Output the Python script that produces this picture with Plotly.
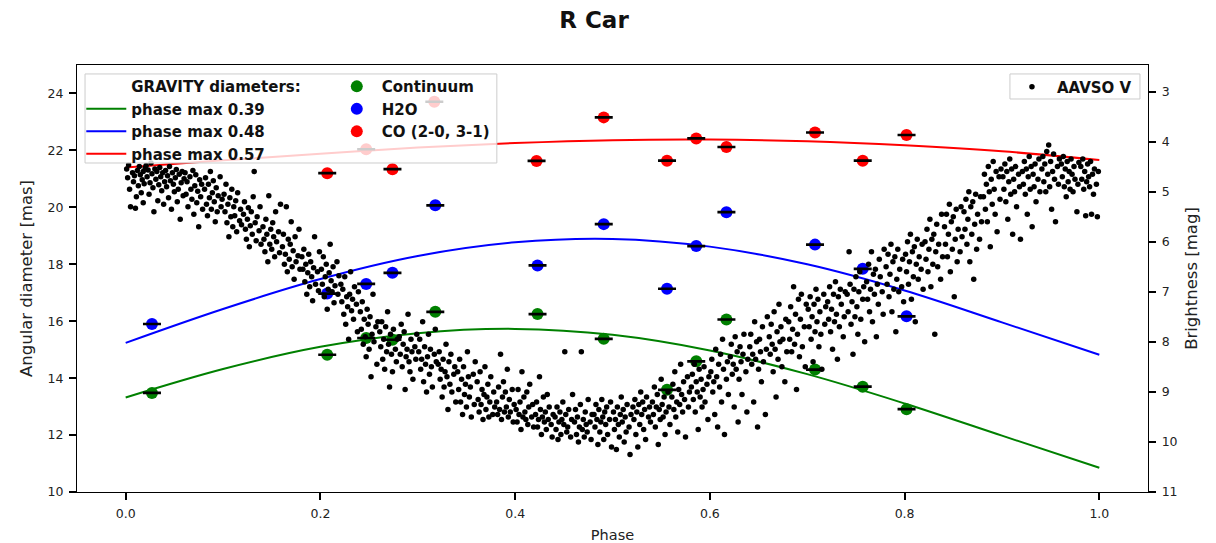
import plotly.graph_objects as go

# ---------------------------------------------------------------- labels / ticks
title_text = "R Car"
x_label = "Phase"
y_label = "Angular diameter [mas]"
y2_label = "Brightness [mag]"
phase_ticks = [0.0, 0.2, 0.4, 0.6, 0.8, 1.0]
phase_tick_text = ["0.0", "0.2", "0.4", "0.6", "0.8", "1.0"]
diam_ticks = [10, 12, 14, 16, 18, 20, 22, 24]
mag_ticks = [3, 4, 5, 6, 7, 8, 9, 10, 11]

# ---------------------------------------------------------------- GRAVITY diameters
grav_phase = [0.027, 0.207, 0.247, 0.274, 0.318, 0.423, 0.491, 0.556, 0.586, 0.617, 0.708, 0.757, 0.802]
cont_diam = [13.48, 14.82, 15.41, 15.35, 16.33, 16.25, 15.38, 13.59, 14.59, 16.06, 14.30, 13.70, 12.91]
cont_err = [0.015, 0.015, 0.015, 0.015, 0.015, 0.015, 0.015, 0.015, 0.015, 0.015, 0.015, 0.015, 0.015]
h2o_diam = [15.90, 16.97, 17.31, 17.70, 20.07, 17.96, 19.41, 17.14, 18.64, 19.83, 18.69, 17.84, 16.17]
h2o_err = [0.015, 0.015, 0.015, 0.015, 0.015, 0.015, 0.015, 0.015, 0.015, 0.015, 0.015, 0.015, 0.015]
co_phase = [0.207, 0.247, 0.274, 0.317, 0.422, 0.491, 0.556, 0.586, 0.617, 0.708, 0.757, 0.802]
co_diam = [21.20, 22.04, 21.34, 23.71, 21.63, 23.16, 21.64, 22.42, 22.12, 22.63, 21.64, 22.54]
co_err = [0.015, 0.015, 0.015, 0.015, 0.015, 0.015, 0.015, 0.015, 0.015, 0.015, 0.015, 0.015]

# fitted curves (phase of maximum given in the legend)
fit_phase = [0.0, 0.1, 0.2, 0.3, 0.4, 0.5, 0.6, 0.7, 0.8, 0.9, 1.0]
fit_cont = [13.32, 14.32, 15.10, 15.58, 15.73, 15.52, 14.97, 14.14, 13.11, 11.98, 10.85]
fit_h2o = [15.24, 16.43, 17.48, 18.29, 18.77, 18.89, 18.62, 18.00, 17.08, 15.96, 14.82]
fit_co = [21.40, 21.65, 21.88, 22.10, 22.26, 22.36, 22.38, 22.32, 22.18, 21.97, 21.66]

# ---------------------------------------------------------------- AAVSO V light curve (folded)
aavso_phase = [
    0.001, 0.002, 0.004, 0.005, 0.007, 0.008, 0.009, 0.011, 0.012, 0.013,
    0.014, 0.015, 0.016, 0.017, 0.018, 0.018, 0.019, 0.020, 0.010, 0.003,
    0.021, 0.022, 0.023, 0.024, 0.025, 0.026, 0.027, 0.028, 0.029, 0.030,
    0.031, 0.032, 0.033, 0.034, 0.035, 0.036, 0.037, 0.038, 0.039, 0.040,
    0.041, 0.042, 0.043, 0.044, 0.045, 0.046, 0.047, 0.048, 0.049, 0.050,
    0.051, 0.052, 0.053, 0.054, 0.055, 0.056, 0.057, 0.058, 0.059, 0.060,
    0.061, 0.062, 0.063, 0.064, 0.066, 0.067, 0.068, 0.069, 0.070,
    0.071, 0.072, 0.073, 0.074, 0.075, 0.076, 0.077, 0.078, 0.079,
    0.081, 0.082, 0.083, 0.084, 0.085, 0.086, 0.087, 0.088, 0.089,
    0.090, 0.091, 0.092, 0.093, 0.094, 0.095, 0.097, 0.098, 0.099,
    0.101, 0.102, 0.103, 0.104, 0.105, 0.106, 0.107, 0.108, 0.109,
    0.110, 0.111, 0.112, 0.113, 0.114, 0.115, 0.117, 0.118, 0.119,
    0.121, 0.122, 0.123, 0.124, 0.125, 0.126, 0.127, 0.128, 0.129,
    0.130, 0.131, 0.132, 0.133, 0.134, 0.135, 0.137, 0.138, 0.139,
    0.141, 0.142, 0.143, 0.144, 0.145, 0.146, 0.147, 0.148, 0.149,
    0.150, 0.151, 0.152, 0.153, 0.154, 0.155, 0.157, 0.158, 0.159,
    0.161, 0.162, 0.163, 0.164, 0.165, 0.166, 0.167, 0.168, 0.169,
    0.170, 0.171, 0.172, 0.173, 0.174, 0.175, 0.177, 0.178, 0.179,
    0.181, 0.182, 0.183, 0.184, 0.185, 0.186, 0.187, 0.188, 0.189,
    0.190, 0.191, 0.192, 0.193, 0.194, 0.195, 0.197, 0.198, 0.199,
    0.201, 0.202, 0.203, 0.204, 0.205, 0.206, 0.207, 0.208, 0.209,
    0.210, 0.211, 0.212, 0.213, 0.214, 0.215, 0.217, 0.218, 0.219,
    0.221, 0.222, 0.223, 0.224, 0.225, 0.226, 0.227, 0.228, 0.229,
    0.230, 0.231, 0.232, 0.233, 0.234, 0.235, 0.237, 0.238, 0.239,
    0.241, 0.242, 0.243, 0.244, 0.245, 0.246, 0.247, 0.248, 0.249,
    0.250, 0.251, 0.252, 0.253, 0.254, 0.255, 0.257, 0.258, 0.259,
    0.261, 0.262, 0.263, 0.264, 0.265, 0.266, 0.267, 0.268, 0.269,
    0.270, 0.271, 0.272, 0.273, 0.274, 0.275, 0.277, 0.278, 0.279,
    0.281, 0.282, 0.283, 0.284, 0.285, 0.286, 0.287, 0.288, 0.289,
    0.290, 0.291, 0.292, 0.293, 0.294, 0.295, 0.297, 0.298, 0.299,
    0.301, 0.302, 0.303, 0.304, 0.305, 0.306, 0.307, 0.308, 0.309,
    0.310, 0.311, 0.312, 0.313, 0.314, 0.315, 0.317, 0.318, 0.319,
    0.321, 0.322, 0.323, 0.324, 0.325, 0.326, 0.327, 0.328, 0.329,
    0.330, 0.331, 0.332, 0.333, 0.334, 0.335, 0.337, 0.338, 0.339,
    0.341, 0.342, 0.343, 0.344, 0.345, 0.346, 0.347, 0.348, 0.349,
    0.350, 0.351, 0.352, 0.353, 0.354, 0.355, 0.357, 0.358, 0.359,
    0.361, 0.362, 0.363, 0.364, 0.365, 0.366, 0.367, 0.368, 0.369,
    0.370, 0.371, 0.372, 0.373, 0.374, 0.375, 0.377, 0.378, 0.379,
    0.381, 0.382, 0.383, 0.384, 0.385, 0.386, 0.387, 0.388, 0.389,
    0.390, 0.391, 0.392, 0.393, 0.394, 0.395, 0.397, 0.398, 0.399,
    0.401, 0.402, 0.403, 0.404, 0.405, 0.406, 0.407, 0.408, 0.409,
    0.410, 0.411, 0.412, 0.413, 0.414, 0.415, 0.417, 0.418, 0.419,
    0.421, 0.422, 0.423, 0.424, 0.425, 0.426, 0.427, 0.428, 0.429,
    0.430, 0.431, 0.432, 0.433, 0.434, 0.435, 0.437, 0.438, 0.439,
    0.441, 0.442, 0.443, 0.444, 0.445, 0.446, 0.447, 0.448, 0.449,
    0.450, 0.451, 0.452, 0.453, 0.454, 0.455, 0.457, 0.458, 0.459,
    0.461, 0.462, 0.463, 0.464, 0.465, 0.466, 0.467, 0.468, 0.469,
    0.470, 0.471, 0.472, 0.473, 0.474, 0.475, 0.477, 0.478, 0.479,
    0.481, 0.482, 0.483, 0.484, 0.485, 0.486, 0.487, 0.488, 0.489,
    0.490, 0.491, 0.492, 0.493, 0.494, 0.495, 0.497, 0.498, 0.499,
    0.501, 0.502, 0.503, 0.504, 0.505, 0.506, 0.507, 0.508, 0.509,
    0.510, 0.511, 0.512, 0.513, 0.514, 0.515, 0.517, 0.518, 0.519,
    0.521, 0.522, 0.523, 0.524, 0.525, 0.526, 0.527, 0.528, 0.529,
    0.530, 0.531, 0.532, 0.533, 0.534, 0.535, 0.537, 0.538, 0.539,
    0.541, 0.542, 0.543, 0.544, 0.545, 0.546, 0.547, 0.548, 0.549,
    0.550, 0.551, 0.552, 0.553, 0.554, 0.555, 0.557, 0.558, 0.559,
    0.561, 0.562, 0.563, 0.564, 0.565, 0.566, 0.567, 0.568, 0.569,
    0.570, 0.571, 0.572, 0.573, 0.574, 0.575, 0.577, 0.578, 0.579,
    0.581, 0.582, 0.583, 0.584, 0.585, 0.586, 0.587, 0.588, 0.589,
    0.590, 0.591, 0.592, 0.593, 0.594, 0.595, 0.597, 0.598, 0.599,
    0.601, 0.602, 0.603, 0.604, 0.605, 0.606, 0.607, 0.608, 0.609,
    0.610, 0.611, 0.612, 0.613, 0.614, 0.615, 0.617, 0.618, 0.619,
    0.621, 0.622, 0.623, 0.624, 0.625, 0.626, 0.627, 0.628, 0.629,
    0.630, 0.631, 0.632, 0.633, 0.634, 0.635, 0.637, 0.638, 0.639,
    0.641, 0.642, 0.643, 0.644, 0.645, 0.646, 0.647, 0.648, 0.649,
    0.650, 0.651, 0.652, 0.653, 0.654, 0.655, 0.657, 0.658, 0.659,
    0.661, 0.662, 0.663, 0.664, 0.665, 0.666, 0.667, 0.668, 0.669,
    0.670, 0.671, 0.672, 0.673, 0.674, 0.675, 0.677, 0.678, 0.679,
    0.681, 0.682, 0.683, 0.684, 0.685, 0.686, 0.687, 0.688, 0.689,
    0.690, 0.691, 0.692, 0.693, 0.694, 0.695, 0.697, 0.698, 0.699,
    0.701, 0.702, 0.703, 0.704, 0.705, 0.706, 0.707, 0.708, 0.709,
    0.710, 0.711, 0.712, 0.713, 0.714, 0.715, 0.717, 0.718, 0.719,
    0.721, 0.722, 0.723, 0.724, 0.725, 0.726, 0.727, 0.728, 0.729,
    0.730, 0.731, 0.732, 0.733, 0.734, 0.735, 0.737, 0.738, 0.739,
    0.741, 0.742, 0.743, 0.744, 0.745, 0.746, 0.747, 0.748, 0.749,
    0.750, 0.751, 0.752, 0.753, 0.754, 0.755, 0.757, 0.758, 0.759,
    0.761, 0.762, 0.763, 0.764, 0.765, 0.766, 0.767, 0.768, 0.769,
    0.770, 0.771, 0.772, 0.773, 0.774, 0.775, 0.777, 0.778, 0.779,
    0.781, 0.782, 0.783, 0.784, 0.785, 0.786, 0.787, 0.788, 0.789,
    0.790, 0.791, 0.792, 0.793, 0.794, 0.795, 0.797, 0.798, 0.799,
    0.801, 0.802, 0.803, 0.804, 0.805, 0.806, 0.807, 0.808, 0.809,
    0.810, 0.811, 0.812, 0.813, 0.814, 0.815, 0.817, 0.818, 0.819,
    0.821, 0.822, 0.823, 0.824, 0.825, 0.826, 0.827, 0.828, 0.829,
    0.830, 0.831, 0.832, 0.833, 0.834, 0.835, 0.837, 0.838, 0.839,
    0.841, 0.842, 0.843, 0.844, 0.845, 0.846, 0.847, 0.848, 0.849,
    0.850, 0.851, 0.852, 0.853, 0.854, 0.855, 0.857, 0.858, 0.859,
    0.861, 0.862, 0.863, 0.864, 0.865, 0.866, 0.867, 0.868, 0.869,
    0.870, 0.871, 0.872, 0.873, 0.874, 0.875, 0.877, 0.878, 0.879,
    0.881, 0.882, 0.883, 0.884, 0.885, 0.886, 0.887, 0.888, 0.889,
    0.890, 0.891, 0.892, 0.893, 0.894, 0.895, 0.897, 0.898, 0.899,
    0.901, 0.902, 0.903, 0.904, 0.905, 0.906, 0.907, 0.908, 0.909,
    0.910, 0.911, 0.912, 0.913, 0.914, 0.915, 0.917, 0.918, 0.919,
    0.921, 0.922, 0.923, 0.924, 0.925, 0.926, 0.927, 0.928, 0.929,
    0.930, 0.931, 0.932, 0.933, 0.934, 0.935, 0.937, 0.938, 0.939,
    0.941, 0.942, 0.943, 0.944, 0.945, 0.946, 0.947, 0.948, 0.949,
    0.950, 0.951, 0.952, 0.953, 0.954, 0.955, 0.957, 0.958, 0.959,
    0.961, 0.962, 0.963, 0.964, 0.965, 0.966, 0.967, 0.968, 0.969,
    0.970, 0.971, 0.972, 0.973, 0.974, 0.975, 0.977, 0.978, 0.979,
    0.981, 0.982, 0.983, 0.984, 0.985, 0.986, 0.987, 0.988, 0.989,
    0.990, 0.991, 0.992, 0.993, 0.994, 0.995, 0.997, 0.998, 0.999,
]
aavso_mag = [
    4.55, 4.72, 4.95, 5.30, 4.62, 4.80, 4.68, 5.10, 4.58, 4.88,
    4.50, 4.66, 5.02, 4.76, 5.22, 4.60, 4.84, 4.53, 5.33, 4.47,
    4.48, 4.70, 4.57, 5.05, 4.82, 4.43, 4.64, 4.92, 5.40, 4.55,
    4.75, 4.60, 5.18, 4.86, 4.52, 4.70, 4.98, 4.62, 5.25, 4.80,
    4.58, 4.90, 4.68, 5.12, 4.50, 4.78, 5.35, 4.62, 4.85, 5.00,
    4.72, 4.56, 5.20, 4.95, 4.65, 5.55, 4.82, 4.60, 5.08, 4.74,
    4.62, 5.05, 4.80, 5.30, 4.70, 4.95, 5.15, 4.58, 5.45,
    4.88, 4.66, 5.22, 4.99, 5.70, 4.76, 5.10, 4.85, 5.35,
    4.95, 4.72, 5.25, 5.48, 4.85, 5.12, 4.60, 5.35, 5.02,
    4.78, 5.20, 5.60, 4.92, 5.40, 5.08, 4.70, 5.30, 5.15,
    5.05, 5.40, 4.85, 5.62, 5.25, 5.90, 5.12, 5.50, 4.95,
    5.70, 5.30, 5.48, 5.18, 5.80, 5.02, 5.58, 5.35, 5.66,
    5.45, 5.20, 5.75, 5.95, 5.55, 5.32, 6.10, 5.68, 5.40,
    5.85, 5.10, 4.60, 5.62, 5.98, 5.50, 5.78, 5.30, 6.05,
    5.70, 5.95, 6.20, 5.55, 5.85, 6.40, 5.08, 6.05, 5.75,
    6.15, 5.62, 5.90, 6.30, 5.40, 6.00, 5.80, 6.22, 5.25,
    6.10, 5.85, 6.45, 6.25, 5.30, 6.60, 5.95, 6.35, 6.05,
    5.60, 6.50, 6.18, 6.75, 5.90, 6.40, 6.28, 5.75, 6.55,
    6.30, 6.55, 6.15, 6.80, 6.45, 7.05, 6.62, 6.25, 6.90,
    6.40, 6.70, 7.18, 6.52, 5.90, 6.85, 6.60, 6.98, 6.20,
    6.55, 6.85, 6.30, 7.10, 6.70, 6.45, 7.35, 6.95, 6.62,
    6.05, 6.78, 7.00, 6.50, 7.22, 6.88, 6.40, 7.05, 6.68,
    6.85, 7.20, 6.95, 7.45, 6.70, 7.65, 7.10, 7.30, 7.95,
    7.05, 6.60, 7.38, 7.15, 7.55, 6.90, 7.25, 7.80, 7.00,
    7.40, 7.75, 7.20, 8.05, 7.55, 7.90, 8.30, 7.35, 7.65,
    8.15, 7.50, 8.70, 7.85, 7.05, 8.00, 7.70, 8.45, 7.60,
    7.80, 8.10, 7.60, 8.35, 7.95, 8.55, 7.70, 8.20, 7.40,
    8.05, 8.90, 7.85, 8.25, 8.60, 7.75, 8.15, 8.40, 7.95,
    7.90, 8.25, 7.65, 8.50, 8.05, 7.80, 8.95, 8.30, 8.15,
    7.45, 8.40, 8.60, 7.95, 8.20, 8.75, 8.10, 8.35, 7.85,
    8.20, 7.95, 8.55, 8.35, 7.60, 8.80, 8.10, 8.45, 9.00,
    8.30, 7.85, 8.65, 8.15, 8.50, 8.90, 8.25, 7.75, 8.40,
    8.45, 8.20, 8.75, 8.55, 9.10, 8.35, 8.90, 8.60, 8.05,
    8.70, 9.35, 8.40, 8.85, 8.25, 9.00, 8.65, 8.50, 9.20,
    8.60, 8.95, 8.35, 9.20, 8.75, 9.45, 8.50, 9.05, 8.85,
    9.30, 8.20, 8.70, 9.10, 8.90, 9.50, 8.65, 9.25, 8.40,
    8.80, 9.15, 9.40, 8.60, 9.25, 8.95, 9.55, 9.05, 8.50,
    9.35, 9.10, 8.85, 9.50, 9.20, 8.70, 9.45, 9.00, 9.30,
    9.20, 9.45, 8.90, 9.35, 8.25, 9.55, 9.10, 8.80, 9.40,
    9.00, 9.30, 8.55, 9.50, 9.15, 9.40, 8.95, 9.60, 9.25,
    9.35, 9.60, 8.95, 9.45, 9.20, 9.75, 8.60, 9.50, 9.10,
    9.40, 9.55, 9.00, 9.65, 9.30, 8.85, 9.50, 9.25, 9.70,
    9.45, 9.20, 9.70, 9.55, 8.70, 9.35, 9.85, 9.50, 9.10,
    9.60, 9.40, 9.75, 9.05, 9.55, 9.30, 9.65, 9.90, 9.45,
    9.50, 9.75, 9.30, 9.95, 9.60, 9.40, 9.85, 9.55, 9.20,
    9.65, 8.20, 9.45, 9.80, 9.70, 9.35, 9.90, 9.55, 9.05,
    9.60, 9.35, 9.85, 9.50, 10.00, 9.70, 9.25, 8.20, 9.75,
    9.55, 9.90, 9.40, 9.65, 9.80, 9.15, 9.60, 9.95, 9.45,
    9.45, 9.70, 9.25, 9.55, 10.05, 9.35, 9.80, 9.60, 9.15,
    9.50, 9.95, 9.40, 9.65, 9.30, 9.85, 9.55, 9.20, 10.10,
    9.40, 9.75, 9.55, 10.15, 9.30, 9.65, 9.90, 9.45, 9.10,
    9.60, 9.35, 10.00, 9.50, 9.80, 9.25, 9.70, 10.25, 9.45,
    9.30, 9.55, 9.15, 9.85, 9.40, 10.10, 9.25, 9.65, 9.00,
    9.45, 9.20, 9.75, 9.35, 9.95, 9.10, 9.50, 9.30, 9.60,
    9.20, 9.45, 8.90, 9.70, 9.30, 9.05, 10.05, 9.35, 9.55,
    8.75, 9.25, 9.50, 9.10, 9.85, 9.40, 9.00, 9.30, 9.65,
    9.10, 8.85, 9.35, 8.60, 9.50, 9.20, 9.80, 8.95, 9.25,
    8.45, 9.05, 9.40, 8.80, 9.15, 9.90, 8.70, 9.30, 9.00,
    8.90, 8.65, 9.15, 8.45, 9.40, 8.80, 9.00, 9.75, 8.55,
    9.10, 8.75, 9.30, 8.95, 8.50, 9.20, 8.85, 9.55, 8.70,
    8.60, 8.35, 9.00, 8.80, 9.45, 8.15, 8.70, 9.70, 8.45,
    8.90, 8.25, 9.20, 7.95, 8.55, 9.85, 8.75, 8.40, 9.05,
    8.30, 8.05, 8.65, 8.45, 9.30, 7.90, 8.55, 8.20, 9.60,
    8.75, 8.10, 8.40, 9.05, 8.25, 7.85, 8.60, 9.40, 8.35,
    8.10, 7.85, 8.45, 8.25, 9.20, 7.60, 8.35, 8.00, 9.70,
    8.55, 7.95, 8.20, 8.80, 7.70, 8.40, 9.45, 8.15, 7.50,
    7.90, 8.25, 7.65, 8.05, 8.60, 7.40, 8.15, 9.10, 7.80,
    8.35, 7.25, 8.00, 7.70, 8.50, 7.95, 8.80, 7.55, 8.20,
    7.60, 7.95, 7.30, 8.20, 7.75, 6.90, 8.05, 7.45, 8.95,
    7.85, 7.15, 8.30, 7.55, 7.05, 8.10, 7.70, 8.50, 7.25,
    7.35, 7.70, 7.10, 7.95, 7.50, 8.40, 7.25, 7.80, 6.95,
    7.60, 7.15, 8.10, 7.40, 7.85, 8.55, 7.05, 7.65, 7.30,
    7.20, 7.55, 6.90, 7.80, 7.35, 8.15, 7.05, 7.60, 6.80,
    7.45, 8.35, 7.10, 7.70, 6.95, 7.25, 7.90, 7.50, 7.00,
    7.05, 7.40, 6.20, 6.85, 7.65, 7.20, 8.25, 6.95, 7.50,
    6.70, 7.30, 7.85, 7.00, 6.60, 7.55, 7.15, 6.90, 8.00,
    6.80, 7.15, 6.45, 7.40, 6.95, 6.20, 7.60, 6.65, 7.05,
    6.55, 7.90, 6.85, 7.25, 6.35, 6.70, 7.00, 7.45, 6.15,
    6.50, 6.85, 6.25, 7.10, 6.65, 6.05, 7.40, 6.40, 6.95,
    6.30, 7.80, 6.75, 6.15, 7.00, 6.55, 6.90, 6.35, 7.20,
    6.25, 6.60, 6.00, 6.85, 6.40, 5.85, 7.15, 6.20, 6.70,
    6.10, 7.60, 6.45, 5.95, 6.75, 6.30, 6.55, 6.05, 6.95,
    6.00, 6.35, 5.75, 6.60, 6.15, 5.55, 6.90, 5.95, 6.45,
    5.85, 7.85, 6.20, 5.65, 6.50, 6.05, 6.75, 5.45, 6.30,
    5.70, 6.05, 5.45, 6.30, 5.85, 5.25, 6.60, 5.60, 6.15,
    5.50, 7.10, 5.95, 5.35, 6.40, 5.75, 6.20, 5.30, 5.90,
    5.40, 5.75, 5.15, 6.05, 5.55, 5.00, 6.40, 5.30, 5.85,
    5.20, 6.75, 5.65, 5.05, 6.15, 5.45, 5.95, 5.10, 5.60,
    5.10, 4.65, 5.35, 4.85, 5.60, 4.50, 5.00, 6.10, 4.75,
    5.25, 4.40, 4.95, 5.45, 4.60, 5.80, 4.70, 5.15, 4.55,
    4.70, 4.95, 4.45, 5.20, 4.60, 5.55, 4.80, 4.35, 5.05,
    4.55, 5.85, 4.75, 5.00, 4.50, 5.30, 4.65, 4.90, 5.95,
    4.60, 4.85, 4.40, 5.05, 4.55, 5.45, 4.70, 4.30, 4.95,
    4.50, 5.70, 4.65, 4.90, 4.45, 5.20, 4.75, 4.35, 5.00,
    4.55, 4.30, 4.80, 4.45, 5.00, 4.20, 4.65, 4.07, 4.90,
    4.40, 5.35, 4.60, 4.25, 4.75, 5.60, 4.50, 4.85, 4.35,
    4.45, 4.70, 4.30, 4.90, 4.55, 5.10, 4.40, 4.80, 4.60,
    4.95, 4.35, 4.65, 5.00, 4.50, 4.75, 5.40, 4.85, 4.42,
    4.50, 4.75, 4.35, 4.95, 4.60, 5.48, 4.80, 4.45, 4.70,
    4.90, 4.40, 5.45, 4.65, 5.05, 4.55, 4.85, 5.50, 4.60,
]

# ---------------------------------------------------------------- styling
FONT = "DejaVu Sans"
TXT = "#222222"
GREEN, BLUE, RED = "#008000", "#0000ff", "#ff0000"
legend_font = dict(family=FONT, size=15, color="#111111", weight="bold")
BOX_EDGE = "#cccccc"
BOX_FILL = "rgba(255,255,255,0.8)"

fig = go.Figure()

# column 1 of the diameter legend: header + fitted curves
fig.add_trace(go.Scatter(x=[None], y=[None], mode="lines",
                         line=dict(color="rgba(0,0,0,0)", width=0),
                         name="GRAVITY diameters:", legend="legend", hoverinfo="skip"))
for ys, col, lab in [(fit_cont, GREEN, "phase max 0.39"),
                     (fit_h2o, BLUE, "phase max 0.48"),
                     (fit_co, RED, "phase max 0.57")]:
    fig.add_trace(go.Scatter(x=fit_phase, y=ys, mode="lines", line_shape="spline",
                             line=dict(color=col, width=2), name=lab, legend="legend"))

# column 2: measured diameters with error bars (caps drawn over the markers)
for xs, ys, es, col, lab in [(grav_phase, cont_diam, cont_err, GREEN, "Continuum"),
                             (grav_phase, h2o_diam, h2o_err, BLUE, "H2O"),
                             (co_phase, co_diam, co_err, RED, "CO (2-0, 3-1)")]:
    fig.add_trace(go.Scatter(x=xs, y=ys, mode="markers",
                             marker=dict(color=col, size=12, line=dict(width=0)),
                             name=lab, legend="legend2"))
    fig.add_trace(go.Scatter(x=xs, y=ys, mode="markers",
                             marker=dict(color="rgba(0,0,0,0)", size=1),
                             error_y=dict(type="data", array=es, color="black",
                                          thickness=1.8, width=9),
                             showlegend=False, hoverinfo="skip"))

# AAVSO light curve on the magnitude axis
fig.add_trace(go.Scatter(x=aavso_phase, y=aavso_mag, mode="markers", yaxis="y2",
                         marker=dict(color="black", size=5.5, line=dict(width=0)),
                         name="AAVSO V", legend="legend3"))

axis_common = dict(showline=True, linecolor="black", linewidth=1.3,
                   ticks="outside", ticklen=7, tickwidth=1.8, tickcolor="black",
                   ticklabelstandoff=3,
                   showgrid=False, zeroline=False, automargin=False,
                   tickfont=dict(family=FONT, size=12.5, color=TXT))

fig.update_layout(
    width=1216, height=543,
    margin=dict(l=77, r=68, t=65, b=51),
    plot_bgcolor="white", paper_bgcolor="white",
    font=dict(family=FONT, color=TXT),
    title=dict(text="<b>" + title_text + "</b>", x=594 / 1216, xref="container",
               xanchor="center", y=1 - 20 / 543, yref="container", yanchor="middle",
               font=dict(family=FONT, size=23, color="#111111")),
    xaxis=dict(range=[-0.05, 1.05], tickvals=phase_ticks, ticktext=phase_tick_text,
               mirror=True,
               title=dict(text=x_label, font=dict(family=FONT, size=14.5, color=TXT), standoff=10),
               **axis_common),
    yaxis=dict(range=[10, 25], tickvals=diam_ticks,
               title=dict(text=y_label, font=dict(family=FONT, size=16.5, color=TXT), standoff=10),
               **axis_common),
    yaxis2=dict(range=[11, 2.47], tickvals=mag_ticks, overlaying="y", side="right",
                title=dict(text=y2_label, font=dict(family=FONT, size=16.5, color=TXT), standoff=8),
                **axis_common),
    legend=dict(x=0.004, y=0.988, xanchor="left", yanchor="top",
                bgcolor="rgba(0,0,0,0)", borderwidth=0, font=legend_font,
                itemwidth=40, tracegroupgap=0, itemclick=False),
    legend2=dict(x=0.2379, y=0.988, xanchor="left", yanchor="top",
                 bgcolor="rgba(0,0,0,0)", borderwidth=0, font=legend_font,
                 itemwidth=40, tracegroupgap=0, itemclick=False),
    legend3=dict(x=0.8683, y=0.9871, xanchor="left", yanchor="top",
                 bgcolor="rgba(0,0,0,0)", borderwidth=0,
                 font=legend_font, itemwidth=40, itemclick=False),
    shapes=[
        # frame behind the diameter legend (two columns)
        dict(type="rect", xref="paper", yref="paper",
             x0=0.0075, x1=0.392, y0=0.7705, y1=0.979,
             fillcolor=BOX_FILL, line=dict(color=BOX_EDGE, width=1), layer="above"),
        # frame behind the AAVSO legend
        dict(type="rect", xref="paper", yref="paper",
             x0=0.8711, x1=0.9925, y0=0.9204, y1=0.979,
             fillcolor=BOX_FILL, line=dict(color=BOX_EDGE, width=1), layer="above"),
    ],
)

fig.write_html("out.html")
